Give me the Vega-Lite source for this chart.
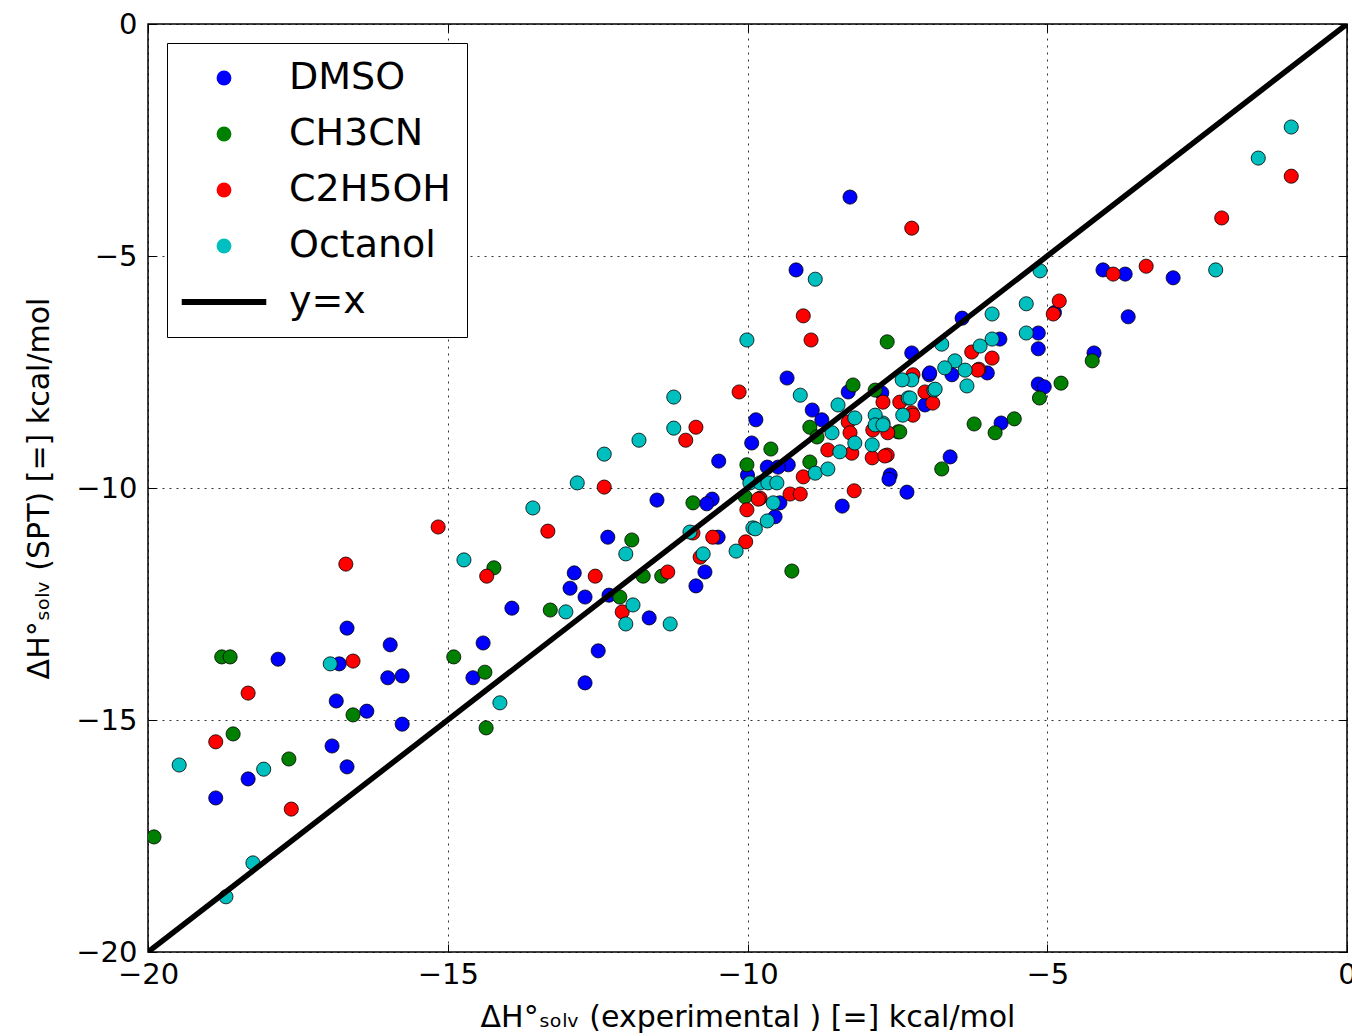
{
  "$schema": "https://vega.github.io/schema/vega-lite/v6.json",
  "width": 1199,
  "height": 928,
  "autosize": {"type": "none"},
  "padding": {"left": 148, "top": 24, "right": 5, "bottom": 84},
  "background": "white",
  "config": {
    "font": "DejaVu Sans",
    "view": {"stroke": "black", "strokeWidth": 1.5},
    "axis": {
      "domain": false,
      "grid": true,
      "gridColor": "black",
      "gridDash": [2, 5],
      "gridWidth": 1,
      "gridOpacity": 0.8,
      "tickColor": "black",
      "tickSize": -8,
      "tickWidth": 1,
      "labelFontSize": 29,
      "labelColor": "black",
      "labelFont": "DejaVu Sans",
      "labelFlush": false,
      "labelOverlap": false,
      "titleFont": "DejaVu Sans",
      "titleFontSize": 30,
      "titleFontWeight": "normal",
      "titleColor": "black"
    }
  },
  "datasets": {
    "pts": [
      {"solvent": "DMSO", "x": -16.68, "y": -13.02},
      {"solvent": "DMSO", "x": -15.96, "y": -13.38},
      {"solvent": "DMSO", "x": -17.83, "y": -13.69},
      {"solvent": "DMSO", "x": -16.81, "y": -13.79},
      {"solvent": "DMSO", "x": -16.0, "y": -14.09},
      {"solvent": "DMSO", "x": -15.76, "y": -14.05},
      {"solvent": "DMSO", "x": -16.86, "y": -14.59},
      {"solvent": "DMSO", "x": -16.35, "y": -14.81},
      {"solvent": "DMSO", "x": -15.76, "y": -15.09},
      {"solvent": "DMSO", "x": -16.93, "y": -15.56},
      {"solvent": "DMSO", "x": -18.33, "y": -16.27},
      {"solvent": "DMSO", "x": -16.68, "y": -16.01},
      {"solvent": "DMSO", "x": -18.87, "y": -16.68},
      {"solvent": "DMSO", "x": -9.86, "y": -8.53},
      {"solvent": "DMSO", "x": -9.93, "y": -9.03},
      {"solvent": "DMSO", "x": -10.48, "y": -9.42},
      {"solvent": "DMSO", "x": -10.0, "y": -9.72},
      {"solvent": "DMSO", "x": -11.51, "y": -10.26},
      {"solvent": "DMSO", "x": -10.59, "y": -10.24},
      {"solvent": "DMSO", "x": -10.68, "y": -10.34},
      {"solvent": "DMSO", "x": -12.33, "y": -11.06},
      {"solvent": "DMSO", "x": -10.49, "y": -11.06},
      {"solvent": "DMSO", "x": -12.89, "y": -11.83},
      {"solvent": "DMSO", "x": -12.96, "y": -12.16},
      {"solvent": "DMSO", "x": -10.71, "y": -11.81},
      {"solvent": "DMSO", "x": -10.86, "y": -12.11},
      {"solvent": "DMSO", "x": -12.71, "y": -12.35},
      {"solvent": "DMSO", "x": -12.31, "y": -12.31},
      {"solvent": "DMSO", "x": -11.64, "y": -12.8},
      {"solvent": "DMSO", "x": -13.93, "y": -12.59},
      {"solvent": "DMSO", "x": -14.41, "y": -13.34},
      {"solvent": "DMSO", "x": -14.58, "y": -14.09},
      {"solvent": "DMSO", "x": -12.49, "y": -13.51},
      {"solvent": "DMSO", "x": -12.71, "y": -14.2},
      {"solvent": "DMSO", "x": -8.29, "y": -3.73},
      {"solvent": "DMSO", "x": -9.19, "y": -5.3},
      {"solvent": "DMSO", "x": -7.26, "y": -7.09},
      {"solvent": "DMSO", "x": -6.42, "y": -6.34},
      {"solvent": "DMSO", "x": -4.07, "y": -5.3},
      {"solvent": "DMSO", "x": -3.7, "y": -5.39},
      {"solvent": "DMSO", "x": -2.9, "y": -5.47},
      {"solvent": "DMSO", "x": -4.88, "y": -6.22},
      {"solvent": "DMSO", "x": -3.65, "y": -6.31},
      {"solvent": "DMSO", "x": -5.15, "y": -6.66},
      {"solvent": "DMSO", "x": -5.15, "y": -7.0},
      {"solvent": "DMSO", "x": -5.79, "y": -6.79},
      {"solvent": "DMSO", "x": -4.22, "y": -7.09},
      {"solvent": "DMSO", "x": -5.15, "y": -7.76},
      {"solvent": "DMSO", "x": -5.05, "y": -7.82},
      {"solvent": "DMSO", "x": -5.77, "y": -8.6},
      {"solvent": "DMSO", "x": -6.0, "y": -7.52},
      {"solvent": "DMSO", "x": -6.59, "y": -7.56},
      {"solvent": "DMSO", "x": -6.97, "y": -7.56},
      {"solvent": "DMSO", "x": -6.62, "y": -9.33},
      {"solvent": "DMSO", "x": -7.62, "y": -9.72},
      {"solvent": "DMSO", "x": -9.34, "y": -7.63},
      {"solvent": "DMSO", "x": -8.92, "y": -8.32},
      {"solvent": "DMSO", "x": -8.76, "y": -8.53},
      {"solvent": "DMSO", "x": -9.67, "y": -9.55},
      {"solvent": "DMSO", "x": -9.32, "y": -9.5},
      {"solvent": "DMSO", "x": -8.32, "y": -7.93},
      {"solvent": "DMSO", "x": -7.76, "y": -7.95},
      {"solvent": "DMSO", "x": -7.04, "y": -8.21},
      {"solvent": "DMSO", "x": -6.96, "y": -7.52},
      {"solvent": "DMSO", "x": -7.64, "y": -9.81},
      {"solvent": "DMSO", "x": -7.34, "y": -10.09},
      {"solvent": "DMSO", "x": -8.42, "y": -10.39},
      {"solvent": "DMSO", "x": -9.46, "y": -10.32},
      {"solvent": "DMSO", "x": -9.54, "y": -10.62},
      {"solvent": "DMSO", "x": -9.49, "y": -9.55},
      {"solvent": "CH3CN", "x": -18.77, "y": -13.64},
      {"solvent": "CH3CN", "x": -18.63, "y": -13.64},
      {"solvent": "CH3CN", "x": -14.9, "y": -13.64},
      {"solvent": "CH3CN", "x": -16.58, "y": -14.89},
      {"solvent": "CH3CN", "x": -18.58, "y": -15.3},
      {"solvent": "CH3CN", "x": -17.65, "y": -15.84},
      {"solvent": "CH3CN", "x": -19.9, "y": -17.52},
      {"solvent": "CH3CN", "x": -10.01, "y": -9.5},
      {"solvent": "CH3CN", "x": -10.91, "y": -10.32},
      {"solvent": "CH3CN", "x": -11.93, "y": -11.12},
      {"solvent": "CH3CN", "x": -14.23, "y": -11.72},
      {"solvent": "CH3CN", "x": -11.74, "y": -11.9},
      {"solvent": "CH3CN", "x": -11.43, "y": -11.9},
      {"solvent": "CH3CN", "x": -12.13, "y": -12.35},
      {"solvent": "CH3CN", "x": -13.29, "y": -12.63},
      {"solvent": "CH3CN", "x": -14.38, "y": -13.97},
      {"solvent": "CH3CN", "x": -14.36, "y": -15.17},
      {"solvent": "CH3CN", "x": -7.67, "y": -6.85},
      {"solvent": "CH3CN", "x": -4.25, "y": -7.26},
      {"solvent": "CH3CN", "x": -4.77, "y": -7.74},
      {"solvent": "CH3CN", "x": -5.13, "y": -8.06},
      {"solvent": "CH3CN", "x": -5.55, "y": -8.51},
      {"solvent": "CH3CN", "x": -5.87, "y": -8.81},
      {"solvent": "CH3CN", "x": -7.49, "y": -8.79},
      {"solvent": "CH3CN", "x": -6.22, "y": -8.62},
      {"solvent": "CH3CN", "x": -6.76, "y": -9.59},
      {"solvent": "CH3CN", "x": -8.96, "y": -8.69},
      {"solvent": "CH3CN", "x": -8.84, "y": -8.9},
      {"solvent": "CH3CN", "x": -9.61, "y": -9.16},
      {"solvent": "CH3CN", "x": -8.96, "y": -9.44},
      {"solvent": "CH3CN", "x": -8.24, "y": -7.78},
      {"solvent": "CH3CN", "x": -7.87, "y": -7.89},
      {"solvent": "CH3CN", "x": -7.46, "y": -8.79},
      {"solvent": "CH3CN", "x": -10.04, "y": -10.19},
      {"solvent": "CH3CN", "x": -9.26, "y": -11.79},
      {"solvent": "C2H5OH", "x": -15.16, "y": -10.84},
      {"solvent": "C2H5OH", "x": -16.7, "y": -11.64},
      {"solvent": "C2H5OH", "x": -16.58, "y": -13.73},
      {"solvent": "C2H5OH", "x": -18.33, "y": -14.42},
      {"solvent": "C2H5OH", "x": -18.87, "y": -15.47},
      {"solvent": "C2H5OH", "x": -17.61, "y": -16.92},
      {"solvent": "C2H5OH", "x": -10.14, "y": -7.93},
      {"solvent": "C2H5OH", "x": -10.86, "y": -8.69},
      {"solvent": "C2H5OH", "x": -11.03, "y": -8.97},
      {"solvent": "C2H5OH", "x": -12.39, "y": -9.98},
      {"solvent": "C2H5OH", "x": -13.33, "y": -10.93},
      {"solvent": "C2H5OH", "x": -10.91, "y": -10.97},
      {"solvent": "C2H5OH", "x": -10.58, "y": -11.06},
      {"solvent": "C2H5OH", "x": -10.03, "y": -11.16},
      {"solvent": "C2H5OH", "x": -14.35, "y": -11.9},
      {"solvent": "C2H5OH", "x": -12.54, "y": -11.9},
      {"solvent": "C2H5OH", "x": -11.33, "y": -11.81},
      {"solvent": "C2H5OH", "x": -12.09, "y": -12.67},
      {"solvent": "C2H5OH", "x": -10.79, "y": -11.49},
      {"solvent": "C2H5OH", "x": -7.26, "y": -4.4},
      {"solvent": "C2H5OH", "x": -9.07, "y": -6.29},
      {"solvent": "C2H5OH", "x": -8.94, "y": -6.81},
      {"solvent": "C2H5OH", "x": -6.26, "y": -7.07},
      {"solvent": "C2H5OH", "x": -0.93, "y": -3.28},
      {"solvent": "C2H5OH", "x": -2.09, "y": -4.18},
      {"solvent": "C2H5OH", "x": -3.9, "y": -5.39},
      {"solvent": "C2H5OH", "x": -3.35, "y": -5.22},
      {"solvent": "C2H5OH", "x": -4.8, "y": -5.97},
      {"solvent": "C2H5OH", "x": -4.9, "y": -6.25},
      {"solvent": "C2H5OH", "x": -5.92, "y": -7.2},
      {"solvent": "C2H5OH", "x": -6.14, "y": -7.44},
      {"solvent": "C2H5OH", "x": -7.04, "y": -7.93},
      {"solvent": "C2H5OH", "x": -6.91, "y": -8.17},
      {"solvent": "C2H5OH", "x": -7.26, "y": -8.38},
      {"solvent": "C2H5OH", "x": -7.74, "y": -8.15},
      {"solvent": "C2H5OH", "x": -7.66, "y": -8.81},
      {"solvent": "C2H5OH", "x": -7.67, "y": -9.29},
      {"solvent": "C2H5OH", "x": -9.07, "y": -9.76},
      {"solvent": "C2H5OH", "x": -8.32, "y": -8.58},
      {"solvent": "C2H5OH", "x": -8.29, "y": -8.81},
      {"solvent": "C2H5OH", "x": -8.66, "y": -9.18},
      {"solvent": "C2H5OH", "x": -8.26, "y": -9.25},
      {"solvent": "C2H5OH", "x": -7.91, "y": -8.75},
      {"solvent": "C2H5OH", "x": -7.92, "y": -9.35},
      {"solvent": "C2H5OH", "x": -7.71, "y": -9.31},
      {"solvent": "C2H5OH", "x": -7.24, "y": -8.43},
      {"solvent": "C2H5OH", "x": -7.46, "y": -8.15},
      {"solvent": "C2H5OH", "x": -7.24, "y": -7.56},
      {"solvent": "C2H5OH", "x": -6.16, "y": -7.46},
      {"solvent": "C2H5OH", "x": -8.22, "y": -10.06},
      {"solvent": "C2H5OH", "x": -9.79, "y": -10.22},
      {"solvent": "C2H5OH", "x": -9.29, "y": -10.13},
      {"solvent": "C2H5OH", "x": -9.12, "y": -10.13},
      {"solvent": "C2H5OH", "x": -10.01, "y": -10.47},
      {"solvent": "C2H5OH", "x": -9.82, "y": -10.24},
      {"solvent": "Octanol", "x": -14.73, "y": -11.55},
      {"solvent": "Octanol", "x": -16.96, "y": -13.79},
      {"solvent": "Octanol", "x": -19.48, "y": -15.97},
      {"solvent": "Octanol", "x": -18.07, "y": -16.06},
      {"solvent": "Octanol", "x": -18.25, "y": -18.08},
      {"solvent": "Octanol", "x": -18.7, "y": -18.81},
      {"solvent": "Octanol", "x": -11.23, "y": -8.04},
      {"solvent": "Octanol", "x": -11.23, "y": -8.71},
      {"solvent": "Octanol", "x": -11.81, "y": -8.97},
      {"solvent": "Octanol", "x": -12.39, "y": -9.27},
      {"solvent": "Octanol", "x": -12.84, "y": -9.89},
      {"solvent": "Octanol", "x": -13.58, "y": -10.43},
      {"solvent": "Octanol", "x": -12.03, "y": -11.42},
      {"solvent": "Octanol", "x": -10.96, "y": -10.95},
      {"solvent": "Octanol", "x": -10.74, "y": -11.42},
      {"solvent": "Octanol", "x": -10.19, "y": -11.36},
      {"solvent": "Octanol", "x": -9.91, "y": -10.86},
      {"solvent": "Octanol", "x": -11.91, "y": -12.52},
      {"solvent": "Octanol", "x": -12.03, "y": -12.93},
      {"solvent": "Octanol", "x": -11.29, "y": -12.93},
      {"solvent": "Octanol", "x": -13.03, "y": -12.67},
      {"solvent": "Octanol", "x": -14.13, "y": -14.63},
      {"solvent": "Octanol", "x": -8.87, "y": -5.5},
      {"solvent": "Octanol", "x": -10.01, "y": -6.81},
      {"solvent": "Octanol", "x": -5.92, "y": -6.25},
      {"solvent": "Octanol", "x": -5.92, "y": -6.79},
      {"solvent": "Octanol", "x": -6.12, "y": -6.94},
      {"solvent": "Octanol", "x": -6.76, "y": -6.9},
      {"solvent": "Octanol", "x": -0.93, "y": -2.22},
      {"solvent": "Octanol", "x": -1.48, "y": -2.89},
      {"solvent": "Octanol", "x": -5.12, "y": -5.32},
      {"solvent": "Octanol", "x": -2.19, "y": -5.3},
      {"solvent": "Octanol", "x": -5.35, "y": -6.03},
      {"solvent": "Octanol", "x": -5.35, "y": -6.66},
      {"solvent": "Octanol", "x": -6.54, "y": -7.26},
      {"solvent": "Octanol", "x": -6.71, "y": -7.41},
      {"solvent": "Octanol", "x": -6.37, "y": -7.46},
      {"solvent": "Octanol", "x": -6.34, "y": -7.8},
      {"solvent": "Octanol", "x": -7.26, "y": -7.67},
      {"solvent": "Octanol", "x": -7.42, "y": -7.67},
      {"solvent": "Octanol", "x": -6.89, "y": -7.89},
      {"solvent": "Octanol", "x": -7.32, "y": -8.06},
      {"solvent": "Octanol", "x": -7.41, "y": -8.43},
      {"solvent": "Octanol", "x": -7.74, "y": -8.6},
      {"solvent": "Octanol", "x": -9.12, "y": -8.0},
      {"solvent": "Octanol", "x": -8.87, "y": -9.68},
      {"solvent": "Octanol", "x": -8.66, "y": -9.59},
      {"solvent": "Octanol", "x": -8.49, "y": -8.21},
      {"solvent": "Octanol", "x": -8.21, "y": -8.49},
      {"solvent": "Octanol", "x": -8.59, "y": -8.81},
      {"solvent": "Octanol", "x": -8.21, "y": -9.03},
      {"solvent": "Octanol", "x": -8.46, "y": -9.22},
      {"solvent": "Octanol", "x": -7.87, "y": -8.43},
      {"solvent": "Octanol", "x": -7.87, "y": -8.64},
      {"solvent": "Octanol", "x": -7.74, "y": -8.64},
      {"solvent": "Octanol", "x": -7.92, "y": -9.07},
      {"solvent": "Octanol", "x": -7.29, "y": -8.06},
      {"solvent": "Octanol", "x": -6.87, "y": -7.87},
      {"solvent": "Octanol", "x": -9.96, "y": -9.89},
      {"solvent": "Octanol", "x": -9.79, "y": -9.89},
      {"solvent": "Octanol", "x": -9.66, "y": -9.89},
      {"solvent": "Octanol", "x": -9.51, "y": -9.89},
      {"solvent": "Octanol", "x": -9.57, "y": -10.32},
      {"solvent": "Octanol", "x": -9.67, "y": -10.71},
      {"solvent": "Octanol", "x": -9.87, "y": -10.88}
    ],
    "ref": [{"x": -20, "y": -20}, {"x": 0, "y": 0}]
  },
  "layer": [
    {
      "data": {"name": "pts"},
      "mark": {"type": "point", "filled": true, "size": 200, "opacity": 1, "stroke": "black", "strokeWidth": 0.8, "clip": true},
      "encoding": {
        "x": {
          "field": "x", "type": "quantitative",
          "scale": {"domain": [-20, 0], "nice": false, "zero": false},
          "axis": {"values": [-20, -15, -10, -5, 0], "labelPadding": 16, "titlePadding": 13,
                   "title": "ΔH°ₛₒₗᵥ (experimental ) [=] kcal/mol"}
        },
        "y": {
          "field": "y", "type": "quantitative",
          "scale": {"domain": [-20, 0], "nice": false, "zero": false},
          "axis": {"values": [-20, -15, -10, -5, 0], "labelPadding": 19, "titlePadding": 21,
                   "title": "ΔH°ₛₒₗᵥ (SPT) [=] kcal/mol"}
        },
        "color": {
          "field": "solvent", "type": "nominal",
          "scale": {"domain": ["DMSO", "CH3CN", "C2H5OH", "Octanol", "y=x"],
                    "range": ["#0000ff", "#008000", "#ff0000", "#00bfbf", "#000000"]},
          "legend": {
            "title": null, "orient": "none", "legendX": 19, "legendY": 19,
            "fillColor": "white", "strokeColor": "black", "padding": 16,
            "symbolSize": 220, "symbolStrokeColor": "black", "symbolStrokeWidth": 0.8, "symbolOpacity": 1,
            "labelFontSize": 38, "labelFont": "DejaVu Sans", "labelColor": "black", "labelLimit": 400,
            "symbolOffset": 22, "labelOffset": 46, "rowPadding": 18
          }
        },
        "shape": {
          "field": "solvent", "type": "nominal",
          "scale": {"domain": ["DMSO", "CH3CN", "C2H5OH", "Octanol", "y=x"],
                    "range": ["circle", "circle", "circle", "circle", "M-5.7,-0.4L5.7,-0.4L5.7,0.4L-5.7,0.4Z"]},
          "legend": {
            "title": null, "orient": "none", "legendX": 19, "legendY": 19,
            "fillColor": "white", "strokeColor": "black", "padding": 16,
            "symbolSize": 220, "symbolStrokeColor": "black", "symbolStrokeWidth": 0.8, "symbolOpacity": 1,
            "labelFontSize": 38, "labelFont": "DejaVu Sans", "labelColor": "black", "labelLimit": 400,
            "symbolOffset": 22, "labelOffset": 46, "rowPadding": 18
          }
        }
      }
    },
    {
      "data": {"name": "ref"},
      "mark": {"type": "line", "color": "black", "strokeWidth": 5.5, "clip": true},
      "encoding": {
        "x": {"field": "x", "type": "quantitative",
              "axis": {"orient": "top", "values": [-20, -15, -10, -5, 0], "labels": false, "title": null, "grid": false}},
        "y": {"field": "y", "type": "quantitative",
              "axis": {"orient": "right", "values": [-20, -15, -10, -5, 0], "labels": false, "title": null, "grid": false}}
      }
    }
  ],
  "resolve": {"axis": {"x": "independent", "y": "independent"}}
}
